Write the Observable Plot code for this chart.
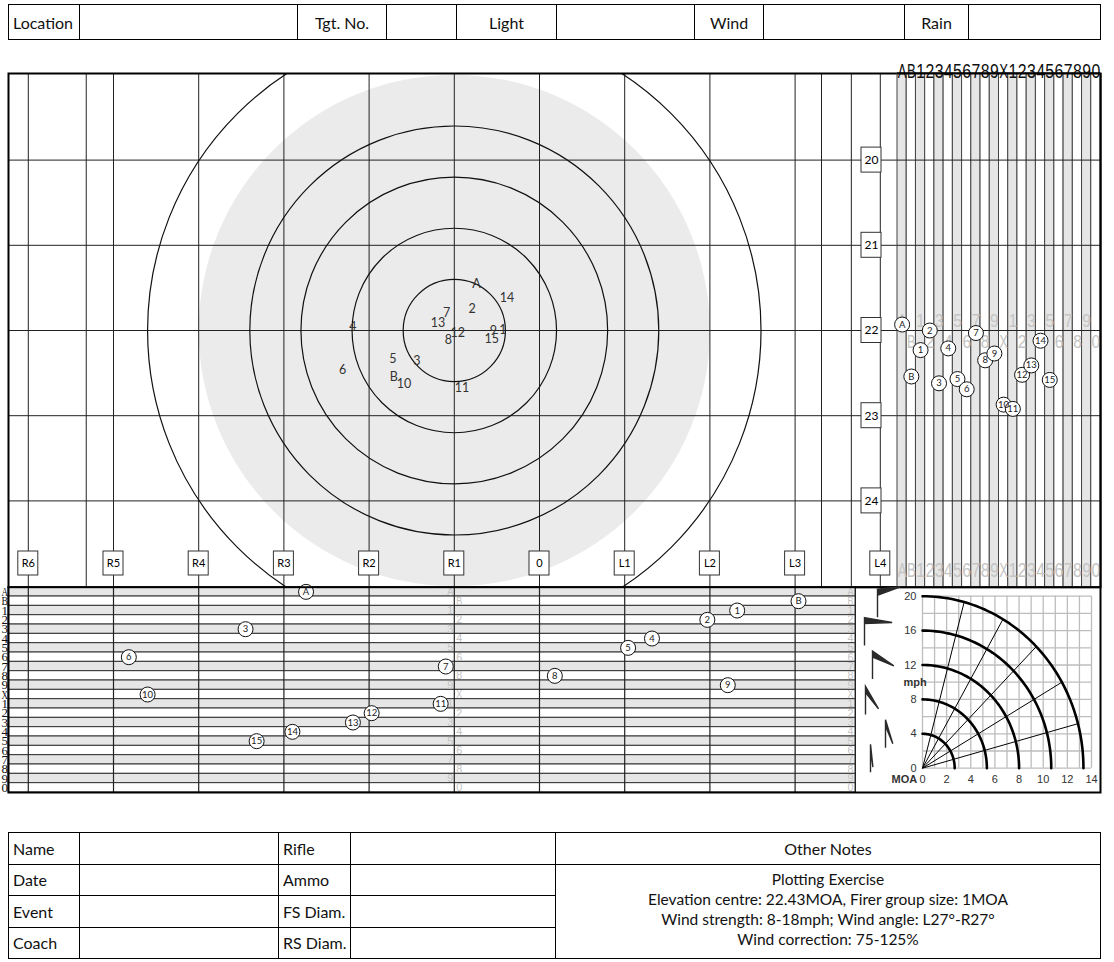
<!DOCTYPE html>
<html>
<head>
<meta charset="utf-8">
<script src="https://cdn.jsdelivr.net/npm/d3@7"></script>
<script src="https://cdn.jsdelivr.net/npm/@observablehq/plot@0.6"></script>
<style>
  html,body{margin:0;padding:0;background:#fff;}
  #root{position:relative;width:1114px;height:962px;overflow:hidden;background:#fff;}
  #root svg{position:absolute;left:0;top:0;}
  table.form{position:absolute;border-collapse:collapse;table-layout:fixed;font-family:Lato,"Open Sans",sans-serif;font-size:16px;color:#111;}
  table.form td{border:1px solid #000;padding:0 0 0 4px;white-space:nowrap;overflow:hidden;}
  table.form td.c{text-align:center;padding:0;}
  table.form td.notes{font-size:15.5px;line-height:20px;vertical-align:middle;padding-bottom:5px;}
</style>
</head>
<body>
<div id="root"></div>
<script>
// ---------------- data ----------------
const shots = ["A","B","1","2","3","4","5","6","7","8","9","10","11","12","13","14","15"];
const targetWindage   = [-0.74,-1.71,-0.43,-0.79,-1.44,-2.19,-1.72,-2.31,-1.09,-1.07,-0.54,-1.59,-0.91,-0.96,-1.19,-0.38,-0.56];
const targetElevation = [21.45,22.55,21.99,21.75,22.36,21.96,22.33,22.46,21.79,22.11,22.01,22.63,22.68,22.03,21.91,21.62,22.10];
const stripElevation  = [21.93,22.54,22.23,22.00,22.62,22.21,22.57,22.69,22.03,22.35,22.27,22.87,22.92,22.52,22.41,22.12,22.58];
const stripWindage    = [-2.74,3.04,2.32,1.97,-3.45,1.32,1.04,-4.82,-1.10,0.18,2.21,-4.60,-1.16,-1.97,-2.19,-2.90,-3.32];
const slots      = ["A","B","1","2","3","4","5","6","7","8","9","10","11","12","13","14","15","16","17","18","19","20"];
const slotLabels = ["A","B","1","2","3","4","5","6","7","8","9","X","1","2","3","4","5","6","7","8","9","0"];
const windageTicks  = [-6,-5,-4,-3,-2,-1,0,1,2,3,4];
const windageLabels = ["R6","R5","R4","R3","R2","R1","0","L1","L2","L3","L4"];
const elevationTicks = [20,21,22,23,24];
const extraWindageLines = [-5.32,3.31,3.66];
const aimWindage = -1, aimElevation = 22;
const ringRadii = [0.6,1.2,1.8,2.4,3.6];
const discRadius = 3.0;
const windSpeeds = [4,8,12,16,20];
const windAngles = [15,30,45,60,75];
const moaPerMph = 2/3;
const windGridMoa = [0,1,2,3,4,5,6,7,8,9,10,11,12,13,14];
const windGridMph = [0,2,4,6,8,10,12,14,16,18,20];
const windMoaTicks = [0,2,4,6,8,10,12,14];
const windMphTicks = [0,4,8,12,16,20];
const flagSpeeds = [20,16,12,8,4,0];
const headerFields = ["Location","Tgt. No.","Light","Wind","Rain"];
const footerLeft = ["Name","Date","Event","Coach"];
const footerMid  = ["Rifle","Ammo","FS Diam.","RS Diam."];
const notesTitle = "Other Notes";
const notesLines = ["Plotting Exercise","Elevation centre: 22.43MOA, Firer group size: 1MOA","Wind strength: 8-18mph; Wind angle: L27°-R27°","Wind correction: 75-125%"];

// ---------------- layout (pixels) ----------------
const W = 1114;
const L = 8, R = 1100, T = 73, MID = 586.7, B = 792, STRIP = 897, WIND = 855;
const K = 85.2, X0 = 539, Y22 = 330;
const u = px => (px - X0) / K;
const e = py => 22 + (py - Y22) / K;
const boxRowElev = e(563), elevBoxWindage = u(871);
const FONT = "Lato, 'Open Sans', sans-serif";
const ARIAL = "'Liberation Sans', Arial, sans-serif";
const root = document.getElementById("root");
const baseStyle = {background: "none", overflow: "visible", maxWidth: "none", fontFamily: FONT};
// squeeze single glyphs of the marks drawn at a given font size (narrow-font look)
const condense = (svg, size, width) => {
  svg.querySelectorAll("text").forEach(t => {
    const g = t.parentNode;
    const fs = (g && g.getAttribute && g.getAttribute("font-size")) || t.getAttribute("font-size");
    if (fs != null && Math.abs(parseFloat(fs) - size) < 0.01) {
      t.setAttribute("textLength", width);
      t.setAttribute("lengthAdjust", "spacingAndGlyphs");
    }
  });
};

// ---------------- header table ----------------
const headerCols = [71,218,89,70,100,138,69,141,64,132];
let h = `<table class="form" style="left:8px;top:4px;width:1092px;height:36px"><colgroup>${headerCols.map(w=>`<col style="width:${w}px">`).join("")}</colgroup><tr>`;
headerFields.forEach((f,i)=>{ h += `<td class="${i? 'c':''}">${f}</td><td></td>`; });
h += `</tr></table>`;
root.insertAdjacentHTML("beforeend", h);

// ---------------- upper target ----------------
const p1 = Plot.plot({
  width: W, height: 600,
  marginLeft: L, marginRight: W - R, marginTop: T, marginBottom: 600 - MID,
  x: {domain: [u(L), u(R)], axis: null},
  y: {domain: [e(T), e(MID)], reverse: true, axis: null},
  r: {type: "linear", domain: [0, 1], range: [0, K]},
  style: baseStyle,
  marks: [
    Plot.dot([discRadius], {x: () => aimWindage, y: () => aimElevation, r: d => d, fill: "#ebebeb", clip: true}),
    Plot.ruleX(windageTicks, {stroke: "#222", strokeWidth: 1}),
    Plot.ruleX(extraWindageLines, {stroke: "#222", strokeWidth: 1}),
    Plot.ruleY(elevationTicks, {stroke: "#222", strokeWidth: 1}),
    Plot.dot(ringRadii, {x: () => aimWindage, y: () => aimElevation, r: d => d, fill: "none", stroke: "#111", strokeWidth: 1.2, clip: true}),
    Plot.text(shots, {x: (d,i) => targetWindage[i], y: (d,i) => targetElevation[i], text: d => d, fontSize: 12.5, fill: "#333"}),
    Plot.rect(windageTicks, {x1: d => d, x2: d => d, y1: () => boxRowElev, y2: () => boxRowElev, insetLeft: -10, insetRight: -10, insetTop: -12, insetBottom: -12, fill: "white", stroke: "#333"}),
    Plot.text(windageTicks, {x: d => d, y: () => boxRowElev, text: (d,i) => windageLabels[i], fontSize: 11}),
    Plot.rect(elevationTicks, {x1: () => elevBoxWindage, x2: () => elevBoxWindage, y1: d => d, y2: d => d, insetLeft: -10, insetRight: -10, insetTop: -12.5, insetBottom: -12.5, fill: "white", stroke: "#333"}),
    Plot.text(elevationTicks, {x: () => elevBoxWindage, y: d => d, text: d => String(d), fontSize: 12}),
    Plot.frame({stroke: "#000", strokeWidth: 2})
  ]
});
root.appendChild(p1);

// ---------------- right elevation strip ----------------
const p2 = Plot.plot({
  width: W, height: 600,
  marginLeft: STRIP, marginRight: W - R, marginTop: T, marginBottom: 600 - MID,
  x: {domain: [0, slots.length], axis: null},
  y: {domain: [e(T), e(MID)], reverse: true, axis: null},
  style: baseStyle,
  marks: [
    Plot.rect(slots, {x1: (d,i) => i, x2: (d,i) => i + 1, y1: () => e(T), y2: () => e(MID), fill: (d,i) => i % 2 ? "#ffffff" : "#e6e6e6", stroke: "#444", strokeWidth: 1}),
    Plot.ruleY(elevationTicks, {stroke: "#222", strokeWidth: 1}),
    Plot.text(slots, {filter: (d,i) => i % 2 === 0, x: (d,i) => i + 0.5, y: () => aimElevation, dy: -10, text: (d,i) => slotLabels[i], fontSize: 19, fontFamily: ARIAL, fill: "#c4c4c4"}),
    Plot.text(slots, {filter: (d,i) => i % 2 === 1, x: (d,i) => i + 0.5, y: () => aimElevation, dy: 11, text: (d,i) => slotLabels[i], fontSize: 19, fontFamily: ARIAL, fill: "#c4c4c4"}),
    Plot.text(slots, {x: (d,i) => i + 0.5, frameAnchor: "bottom", dy: -10, text: (d,i) => slotLabels[i], fontSize: 20, fontFamily: ARIAL, fill: "#c4c4c4"}),
    Plot.text(slots, {x: (d,i) => i + 0.5, frameAnchor: "top", dy: -10, text: (d,i) => slotLabels[i], fontSize: 20, fontFamily: ARIAL, fill: "#111"}),
    Plot.dot(shots, {x: (d,i) => i + 0.5, y: (d,i) => stripElevation[i], r: 7.5, fill: "white", stroke: "#111", strokeWidth: 1}),
    Plot.text(shots, {x: (d,i) => i + 0.5, y: (d,i) => stripElevation[i], text: d => d, fontSize: 9.5, fill: "#222"}),
    Plot.ruleX([slots.length], {stroke: "#000", strokeWidth: 2}),
    Plot.ruleY([e(T)], {stroke: "#000", strokeWidth: 2})
  ]
});
condense(p2, 19, 8.6);
condense(p2, 20, 8.8);
root.appendChild(p2);

// ---------------- lower windage strip ----------------
const p3 = Plot.plot({
  width: W, height: 800,
  marginLeft: L, marginRight: W - R, marginTop: MID, marginBottom: 800 - B,
  x: {domain: [u(L), u(R)], axis: null},
  y: {domain: [0, slots.length], reverse: true, axis: null},
  style: baseStyle,
  marks: [
    Plot.rect(slots, {x1: () => u(L), x2: () => u(WIND), y1: (d,i) => i, y2: (d,i) => i + 1, fill: (d,i) => i % 2 ? "#ffffff" : "#e6e6e6", stroke: "#333", strokeWidth: 1}),
    Plot.ruleX(windageTicks.filter(d => d < u(WIND)), {stroke: "#222", strokeWidth: 1.2}),
    Plot.ruleX([u(WIND)], {stroke: "#222", strokeWidth: 1}),
    Plot.text(slots, {filter: (d,i) => i % 2 === 0, x: () => aimWindage, y: (d,i) => i + 0.5, dx: -1, textAnchor: "end", text: (d,i) => slotLabels[i], fontSize: 11, fontFamily: ARIAL, fill: "#c4c4c4"}),
    Plot.text(slots, {filter: (d,i) => i % 2 === 1, x: () => aimWindage, y: (d,i) => i + 0.5, dx: 2, textAnchor: "start", text: (d,i) => slotLabels[i], fontSize: 11, fontFamily: ARIAL, fill: "#c4c4c4"}),
    Plot.text(slots, {x: () => u(WIND), y: (d,i) => i + 0.5, dx: -2, textAnchor: "end", text: (d,i) => slotLabels[i], fontSize: 11, fontFamily: ARIAL, fill: "#c4c4c4"}),
    Plot.text(slots, {frameAnchor: "left", y: (d,i) => i + 0.5, dx: -0.5, textAnchor: "end", text: (d,i) => slotLabels[i], fontSize: 12.5, fontFamily: "'Liberation Serif', serif", fill: "#111"}),
    Plot.dot(shots, {x: (d,i) => stripWindage[i], y: (d,i) => i + 0.5, r: 7.5, fill: "white", stroke: "#111", strokeWidth: 1}),
    Plot.text(shots, {x: (d,i) => stripWindage[i], y: (d,i) => i + 0.5, text: d => d, fontSize: 9.5, fill: "#222"}),
    Plot.frame({stroke: "#000", strokeWidth: 2})
  ]
});
condense(p3, 11, 6);
condense(p3, 12.5, 6.5);
root.appendChild(p3);

// ---------------- wind chart ----------------
const rad = Math.PI / 180;
const arcPoints = windSpeeds.flatMap(s => d3.range(0, 90.001, 1.5).map(p => ({speed: s, moa: moaPerMph * s * Math.cos(p * rad), mph: s * Math.sin(p * rad)})));
const spokes = windAngles.map(a => ({angle: a, moa: moaPerMph * 20 * Math.cos(a * rad), mph: 20 * Math.sin(a * rad)}));
const flagLook = {20:{dx:-45,dy:7,angle:-6,len:23},16:{dx:-58,dy:1,angle:10,len:28},12:{dx:-50,dy:0,angle:35,len:26},8:{dx:-57,dy:1,angle:60,len:26},4:{dx:-37,dy:0,angle:73,len:25},0:{dx:-52,dy:-10,angle:84,len:23}};
const flagSymbol = ({angle, len}) => ({
  draw(ctx) {
    const top = -14, a = angle * rad;
    ctx.moveTo(0, top); ctx.lineTo(0, 14);
    ctx.moveTo(0, top); ctx.lineTo(len * Math.cos(a), top + len * Math.sin(a)); ctx.lineTo(0, top + 6); ctx.closePath();
  }
});
const p4 = Plot.plot({
  width: W, height: 800,
  marginLeft: 922, marginRight: W - 1091, marginTop: 595.7, marginBottom: 800 - 767.7,
  x: {domain: [0, 14], axis: null},
  y: {domain: [0, 20], axis: null},
  style: baseStyle,
  marks: [
    Plot.ruleX(windGridMoa, {stroke: "#bdbdbd", strokeWidth: 1.3}),
    Plot.ruleY(windGridMph, {stroke: "#bdbdbd", strokeWidth: 1.3}),
    Plot.link(spokes, {x1: () => 0, y1: () => 0, x2: "moa", y2: "mph", stroke: "#000", strokeWidth: 1}),
    Plot.line(arcPoints, {x: "moa", y: "mph", z: "speed", stroke: "#000", strokeWidth: 2.6}),
    Plot.text(windMoaTicks, {x: d => d, frameAnchor: "bottom", dy: 15, text: d => String(d), fontSize: 11, fill: "#333", fontFamily: ARIAL}),
    Plot.text(windMphTicks, {y: d => d, frameAnchor: "left", dx: -6, textAnchor: "end", text: d => String(d), fontSize: 11, fill: "#333", fontFamily: ARIAL}),
    Plot.text(["mph"], {y: () => 10, frameAnchor: "left", dx: -19, text: d => d, fontWeight: "bold", fontSize: 11, fill: "#333", fontFamily: ARIAL}),
    Plot.text(["MOA"], {frameAnchor: "bottom-left", dx: -31, dy: 15, text: d => d, fontWeight: "bold", fontSize: 11, fill: "#333", fontFamily: ARIAL}),
    ...flagSpeeds.map(s => Plot.dot([s], {y: d => d, frameAnchor: "left", dx: flagLook[s].dx, dy: flagLook[s].dy, symbol: flagSymbol(flagLook[s]), fill: "#2a2a2a", stroke: "#2a2a2a", strokeWidth: 1.4}))
  ]
});
root.appendChild(p4);

// ---------------- footer table ----------------
const footCols = [71,199,72,205,545];
let f = `<table class="form" style="left:8px;top:832px;width:1092px;height:126px"><colgroup>${footCols.map(w=>`<col style="width:${w}px">`).join("")}</colgroup>`;
footerLeft.forEach((lab,i) => {
  f += `<tr style="height:31.5px"><td>${lab}</td><td></td><td>${footerMid[i]}</td><td></td>`;
  if (i === 0) f += `<td class="c">${notesTitle}</td>`;
  if (i === 1) f += `<td class="c notes" rowspan="3">${notesLines.join("<br>")}</td>`;
  f += `</tr>`;
});
f += `</table>`;
root.insertAdjacentHTML("beforeend", f);
</script>
</body>
</html>
